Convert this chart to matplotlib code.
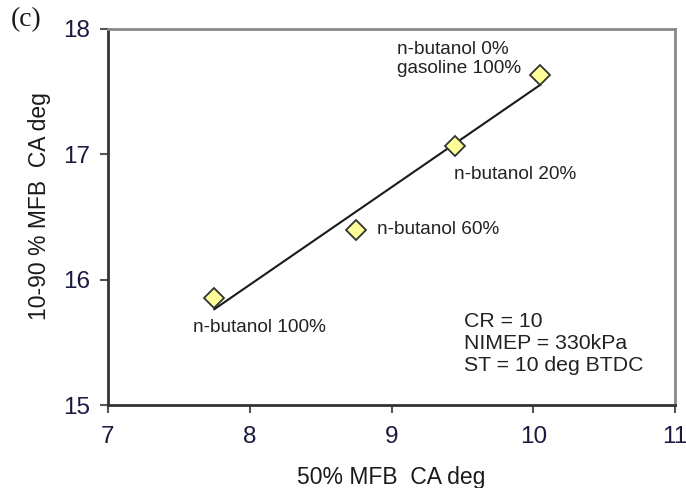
import matplotlib
matplotlib.use("Agg")
import matplotlib.pyplot as plt
import numpy as np

plt.rcParams['font.family'] = ['Liberation Sans', 'DejaVu Sans']

# data
mfb50 = [7.75, 8.75, 9.45, 10.05]
mfb1090 = [15.85, 16.40, 17.07, 17.63]
labels = ["n-butanol 100%", "n-butanol 60%", "n-butanol 20%", "n-butanol 0%\ngasoline 100%"]
xticks = [7, 8, 9, 10, 11]
yticks = [15, 16, 17, 18]

fig = plt.figure(figsize=(6.86, 4.88), dpi=100)
ax = fig.add_axes([0.1574, 0.170, 0.8266, 0.7706])

# trend line (linear fit)
coef = np.polyfit(mfb50, mfb1090, 1)
xl = np.array([min(mfb50), max(mfb50)])
ax.plot(xl, np.polyval(coef, xl), color='#1a1a1a', lw=1.5, zorder=2)

ax.plot(mfb50, mfb1090, linestyle='none', marker='D', markersize=10.5,
        markerfacecolor='#ffff99', markeredgecolor='#333333', markeredgewidth=1.3, zorder=3)

ax.set_xlim(7, 11)
ax.set_ylim(15, 18)
ax.set_xticks(xticks)
ax.set_yticks(yticks)
ax.tick_params(axis='both', direction='out', length=6, width=1.5, color='#555555',
               labelsize=17.5, labelcolor='#1a1a40')
ax.tick_params(axis='x', pad=9)
ax.tick_params(axis='y', pad=7)

for s in ['left', 'bottom']:
    ax.spines[s].set_color('#333333')
    ax.spines[s].set_linewidth(2)
for s in ['top', 'right']:
    ax.spines[s].set_color('#888888')
    ax.spines[s].set_linewidth(2)

ax.set_xlabel("50% MFB  CA deg", fontsize=16.5, color='#1a1a1a', labelpad=13)
ax.set_ylabel("10-90 % MFB  CA deg", fontsize=16.5, color='#1a1a1a')
ax.yaxis.set_label_coords(-0.100, 0.53)

tc = '#222222'
fs = 13.7
ax.annotate(labels[0], (mfb50[0], mfb1090[0]), xytext=(-15, -15), textcoords='offset points',
            fontsize=fs, color=tc, ha='left', va='top')
ax.annotate(labels[1], (mfb50[1], mfb1090[1]), xytext=(15, 0), textcoords='offset points',
            fontsize=fs, color=tc, ha='left', va='center')
ax.annotate(labels[2], (mfb50[2], mfb1090[2]), xytext=(-1, -15), textcoords='offset points',
            fontsize=fs, color=tc, ha='left', va='top')
ax.annotate(labels[3], (mfb50[3], mfb1090[3]), xytext=(-103, 25), textcoords='offset points',
            fontsize=fs, color=tc, ha='left', va='top', linespacing=1.2)

ax.text(0.628, 0.248, "CR = 10\nNIMEP = 330kPa\nST = 10 deg BTDC", transform=ax.transAxes,
        fontsize=15.3, color=tc, ha='left', va='top', linespacing=1.2)

fig.text(0.015, 0.985, "(c)", fontsize=20, family=['Liberation Serif', 'DejaVu Serif'],
         color='#1a1a1a', ha='left', va='top')

fig.savefig("out.png", dpi=100)
